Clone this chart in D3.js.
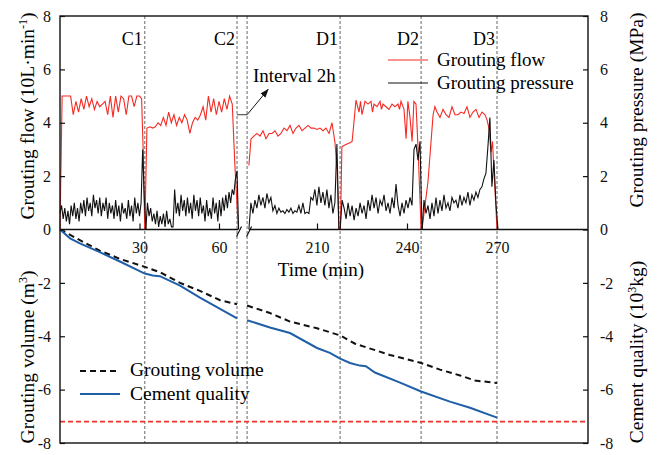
<!DOCTYPE html>
<html>
<head>
<meta charset="utf-8">
<script src="https://cdn.jsdelivr.net/npm/d3@7"></script>
<style>
  body { margin: 0; background: #fff; }
  svg { display: block; font-family: "Liberation Serif", "Times New Roman", serif; }
</style>
</head>
<body>
<div id="chart"></div>
<script>
// ---- data (time in min, flow in 10 L/min, pressure in MPa, volume m3, cement 10^3 kg)
const flowC1 = [[0,0],[0.8,5.0],[2,5.0],[3,5.0],[4,5.0],[5,4.3],[6,4.8],[7,4.4],[8,4.9],[9,4.5],[10,5.0],[11,4.6],[12,4.9],[13,4.5],[14,4.8],[15,4.6],[16,4.7],[17,4.8],[18,4.3],[19,5.0],[20,4.2],[21,5.0],[22,4.4],[23,5.0],[24,4.9],[25,4.3],[26,5.0],[27,5.0],[28,4.6],[29,5.0],[30,5.0],[30.8,4.9],[31.4,2.9],[32,0]];
const flowC2 = [[32,0],[32.8,3.8],[34,3.85],[35,3.8],[36,3.85],[37,4.0],[38,3.9],[39,4.2],[40,3.9],[41,4.4],[42,4.0],[43,4.3],[44,3.9],[45,4.2],[46,4.0],[47,4.3],[48,4.1],[49,3.6],[50,4.0],[51,4.2],[52,4.1],[53,4.3],[54,4.6],[55,4.1],[56,5.0],[57,4.4],[58,4.9],[59,4.3],[60,4.8],[61,4.4],[62,4.9],[63,4.5],[64,5.0],[65,4.7],[66,2.4],[67.3,0]];
const flowD1 = [[187.3,2.4],[188,3.4],[189,3.5],[190,3.6],[191,3.5],[192,3.7],[193,3.4],[194,3.6],[195,3.6],[196,3.7],[197,3.5],[198,3.6],[199,3.8],[200,3.7],[201,3.9],[202,3.6],[203,3.8],[204,3.9],[205,3.7],[206,3.8],[207,3.9],[208,3.8],[209,3.8],[210,3.75],[211,3.8],[212,3.7],[213,3.8],[214,3.6],[215,4.0],[216,3.25],[216.7,2.2],[217.3,0]];
const flowD2 = [[217.8,0],[218.3,3.1],[219,3.15],[220,3.2],[221,3.25],[221.7,3.3],[222.3,4.0],[223,4.85],[224,4.4],[224.5,4.8],[225,4.3],[226,4.8],[227,4.7],[228,4.8],[228.5,4.4],[229,4.7],[230,4.6],[231,4.8],[231.5,4.5],[232,4.7],[233,4.6],[234,4.5],[235,4.7],[236,4.6],[237,4.7],[237.5,4.5],[238,4.8],[239,4.5],[239.7,3.4],[240.3,4.8],[241,4.2],[241.7,3.3],[242.3,4.8],[243,4.7],[243.7,3.0],[244.7,0]];
const flowD3 = [[245,0],[247,1.8],[248.7,4.3],[249.3,4.6],[250,4.4],[251,4.2],[252,4.5],[253,4.3],[254,4.2],[255,4.6],[256,4.3],[257,4.3],[258,4.4],[259,4.35],[260,4.6],[261,4.2],[262,4.4],[263,4.5],[264,4.2],[265,4.4],[266,4.3],[266.7,4.1],[267.3,3.8],[268,2.9],[268.5,3.3],[270,0]];

// pressure: evenly sampled between the two times of each span
const presC1Span = [0, 32.4];
const presC1 = [0.6,0.9,0.4,0.8,0.3,0.7,0.2,0.9,0.5,1.0,0.4,0.8,0.3,1.0,0.6,1.1,0.5,1.2,0.7,1.0,0.5,1.3,0.8,1.1,0.6,1.2,0.5,1.0,0.7,1.2,0.4,1.0,0.6,0.9,0.4,1.1,0.5,0.9,0.3,1.0,0.6,0.8,0.4,1.1,0.5,0.9,0.3,1.2,0.6,1.0,0.5,1.0,3.0,1.2,0.0];
const presC2Span = [32.4, 67.4];
const presC2 = [0.0,1.0,0.5,0.8,0.3,0.6,0.2,0.7,0.1,0.5,0.2,0.6,0.1,0.7,0.2,0.4,0.1,0.1,1.5,0.6,1.0,0.5,1.3,0.7,1.1,0.5,1.2,0.6,1.0,0.4,1.3,0.7,1.1,0.5,1.2,0.6,0.9,0.3,1.1,0.5,0.8,0.4,1.2,0.6,1.0,0.3,1.1,0.5,1.2,0.7,1.3,0.8,1.4,1.0,1.5,1.3,1.9,2.2,0.0];
const presD1Span = [187.3, 217.3];
const presD1 = [0.0,1.0,0.6,1.1,0.8,1.3,0.9,1.2,0.8,1.35,1.0,1.2,0.7,0.9,0.6,0.8,0.65,0.7,0.6,0.75,0.65,0.8,0.6,0.7,0.65,0.9,0.6,1.0,0.6,0.65,0.6,1.2,1.1,1.5,0.9,1.6,1.0,1.4,0.9,1.5,0.8,1.3,0.6,1.0,3.2,0.0];
const presD2Span = [217.7, 245.0];
const presD2 = [0.0,1.1,0.8,0.4,1.0,0.5,0.9,0.35,0.8,0.5,1.0,0.6,0.9,0.4,1.1,0.7,1.3,0.8,1.2,0.6,1.1,0.9,1.3,0.7,1.0,0.6,1.2,0.8,1.7,0.9,0.5,1.0,0.6,1.1,0.8,1.2,0.9,3.0,3.2,2.6,3.3,0.0];
const presD3Span = [245, 270.3];
const presD3 = [0.0,1.1,0.6,0.9,0.4,1.0,0.5,1.2,0.6,1.1,0.7,1.3,0.8,1.0,0.7,1.2,1.0,1.1,0.8,1.3,0.9,1.2,1.0,1.4,0.9,1.3,1.1,1.4,1.2,1.5,1.6,1.9,2.1,3.1,4.2,1.6,2.6,1.0,0.0];

const volumeA = [[0,0],[7.5,-0.4],[15,-0.79],[22.6,-1.1],[32,-1.4],[37.7,-1.6],[45.3,-2.0],[52.8,-2.3],[60.4,-2.65],[66.8,-2.8]];
const volumeB = [[186.7,-2.85],[194.3,-3.13],[201,-3.45],[210,-3.7],[214.3,-3.85],[217.7,-3.97],[222.7,-4.28],[234.3,-4.7],[244.7,-5.0],[251,-5.25],[257.7,-5.47],[262.7,-5.66],[270,-5.75]];
const cementA = [[0,0],[3.8,-0.33],[7.5,-0.52],[15,-0.85],[22.6,-1.2],[32,-1.65],[35,-1.72],[37.7,-1.75],[45.3,-2.1],[52.8,-2.55],[60.4,-2.97],[66.8,-3.33]];
const cementB = [[186.7,-3.4],[194.3,-3.67],[201,-3.88],[210,-4.44],[214.3,-4.62],[217.7,-4.84],[221,-5.0],[224.3,-5.1],[226.3,-5.12],[229.3,-5.36],[237.7,-5.74],[244.7,-6.07],[254.3,-6.45],[261,-6.68],[270,-7.05]];
const limitLine = -7.2;

const stageNames = ['C1', 'C2', '', 'D1', 'D2', 'D3'];
const stageTimes = [32, 66.8, 186.7, 217.7, 244.7, 270];
const breakTimes = [66.8, 186.7];
const yTicks = [-8, -6, -4, -2, 0, 2, 4, 6, 8];
const xTicksA = [30, 60];
const xTicksB = [210, 240, 270];
const intervalLink = [[66.8, 4.3], [186.7, 4.3]];
const intervalArrow = [[186.7, 4.3], [193.7, 5.25]];

// ---- layout
const W = 658, H = 455;
const M = { left: 60, right: 588, top: 16, bottom: 443 };
const RED = '#f42a24', BLUE = '#1f5fa6';

const svg = d3.select('#chart').append('svg').attr('width', W).attr('height', H);

const y = d3.scaleLinear().domain([-8, 8]).range([M.bottom, M.top]);
const xA = d3.scaleLinear().domain([0, 60]).range([M.left, 219]);
const xB = d3.scaleLinear().domain([210, 270]).range([317, 497]);
const x = (t) => (t < 120 ? xA(t) : xB(t));
const y0 = y(0);

const line = d3.line().x((d) => x(d[0])).y((d) => y(d[1]));
const spread = (vals, span) => vals.map((v, i) => [span[0] + i * (span[1] - span[0]) / (vals.length - 1), v]);

// stage separators (dashed verticals)
svg.append('g').selectAll('line').data(stageTimes).enter().append('line')
    .attr('x1', (t) => x(t)).attr('x2', (t) => x(t))
    .attr('y1', M.top).attr('y2', M.bottom)
    .attr('stroke', '#555').attr('stroke-width', 0.9).attr('stroke-dasharray', '3,2');

svg.append('g').selectAll('text').data(stageTimes).enter().append('text')
    .attr('x', (t) => x(t) - 2).attr('y', 45)
    .attr('text-anchor', 'end').style('font-size', '18px')
    .text((t, i) => stageNames[i]);

// red limit line
svg.append('line')
    .attr('x1', M.left).attr('x2', M.right)
    .attr('y1', y(limitLine)).attr('y2', y(limitLine))
    .attr('stroke', '#e8352d').attr('stroke-width', 1.8).attr('stroke-dasharray', '5,3');

// top panel series
[flowC1, flowC2, flowD1, flowD2, flowD3].forEach((s) => {
    svg.append('path').attr('d', line(s)).attr('fill', 'none')
        .attr('stroke', RED).attr('stroke-width', 1.1);
});
[[presC1, presC1Span], [presC2, presC2Span], [presD1, presD1Span], [presD2, presD2Span], [presD3, presD3Span]].forEach(([v, span]) => {
    svg.append('path').attr('d', line(spread(v, span))).attr('fill', 'none')
        .attr('stroke', '#111').attr('stroke-width', 1.1).attr('stroke-linejoin', 'miter');
});

// bottom panel series
[volumeA, volumeB].forEach((s) => {
    svg.append('path').attr('d', line(s)).attr('fill', 'none')
        .attr('stroke', '#111').attr('stroke-width', 2).attr('stroke-dasharray', '6,4');
});
[cementA, cementB].forEach((s) => {
    svg.append('path').attr('d', line(s)).attr('fill', 'none')
        .attr('stroke', BLUE).attr('stroke-width', 2);
});

// interval annotation
svg.append('defs').append('marker')
    .attr('id', 'arr').attr('viewBox', '0 0 10 10').attr('refX', 9).attr('refY', 5)
    .attr('markerWidth', 9).attr('markerHeight', 9).attr('orient', 'auto')
    .append('path').attr('d', 'M0,1.5L10,5L0,8.5Z').attr('fill', '#111');
svg.append('path').attr('d', line(intervalLink)).attr('stroke', '#333').attr('stroke-width', 1).attr('fill', 'none');
svg.append('path').attr('d', line(intervalArrow)).attr('stroke', '#111').attr('stroke-width', 1)
    .attr('fill', 'none').attr('marker-end', 'url(#arr)');
svg.append('text').attr('x', 253).attr('y', 82).style('font-size', '19px').text('Interval 2h');

// frame
svg.append('rect').attr('x', M.left).attr('y', M.top)
    .attr('width', M.right - M.left).attr('height', M.bottom - M.top)
    .attr('fill', 'none').attr('stroke', '#111').attr('stroke-width', 1.4);

// middle time axis with break
svg.append('line').attr('x1', M.left).attr('x2', x(breakTimes[0]) + 1)
    .attr('y1', y0).attr('y2', y0).attr('stroke', '#111').attr('stroke-width', 1.4);
svg.append('line').attr('x1', x(breakTimes[1]) + 2).attr('x2', M.right)
    .attr('y1', y0).attr('y2', y0).attr('stroke', '#111').attr('stroke-width', 1.4);
svg.append('g').selectAll('line').data(breakTimes).enter().append('line')
    .attr('x1', (t) => x(t) - 0.5).attr('y1', y0 + 7)
    .attr('x2', (t) => x(t) + 4.5).attr('y2', y0 - 3)
    .attr('stroke', '#111').attr('stroke-width', 1.2);

function styleAxis(g) {
    g.attr('font-family', null);
    g.select('.domain').remove();
    g.selectAll('line').attr('stroke', '#111').attr('stroke-width', 1.2);
    g.selectAll('text').attr('fill', '#111').style('font-size', '16px')
        .style('font-family', '"Liberation Serif", "Times New Roman", serif');
}

svg.append('g').attr('transform', `translate(0,${y0})`)
    .call(d3.axisBottom(xA).tickValues(xTicksA).tickSizeInner(-6).tickSizeOuter(0).tickPadding(12))
    .call(styleAxis);
svg.append('g').attr('transform', `translate(0,${y0})`)
    .call(d3.axisBottom(xB).tickValues(xTicksB).tickSizeInner(-6).tickSizeOuter(0).tickPadding(12))
    .call(styleAxis);

svg.append('g').attr('transform', `translate(${M.left},0)`)
    .call(d3.axisLeft(y).tickValues(yTicks).tickSizeInner(-5).tickSizeOuter(0).tickPadding(9).tickFormat((d) => String(d)))
    .call(styleAxis);
svg.append('g').attr('transform', `translate(${M.right},0)`)
    .call(d3.axisRight(y).tickValues(yTicks).tickSizeInner(-5).tickSizeOuter(0).tickPadding(12).tickFormat((d) => String(d)))
    .call(styleAxis);

svg.append('text').attr('x', 321).attr('y', 276).attr('text-anchor', 'middle')
    .style('font-size', '19px').text('Time (min)');

// axis titles
function vTitle(cx, cy, parts) {
    const t = svg.append('text').attr('transform', `translate(${cx},${cy}) rotate(-90)`)
        .attr('text-anchor', 'middle').attr('dy', '0.35em').style('font-size', '19.5px');
    parts.forEach(([s, sup]) => {
        const ts = t.append('tspan').text(s);
        if (sup) ts.attr('baseline-shift', 'super').style('font-size', '12px');
    });
}
vTitle(27, 116, [['Grouting flow (10L·min'], ['-1', true], [')']]);
vTitle(27, 357, [['Grouting volume (m'], ['3', true], [')']]);
vTitle(636, 110, [['Grouting pressure (MPa)']]);
vTitle(636, 352, [['Cement quality (10'], ['3', true], ['kg)']]);

// legends
const legTop = svg.append('g');
legTop.append('line').attr('x1', 388).attr('x2', 428).attr('y1', 60).attr('y2', 60)
    .attr('stroke', RED).attr('stroke-width', 1.1);
legTop.append('text').attr('x', 437).attr('y', 66).style('font-size', '19px').text('Grouting flow');
legTop.append('line').attr('x1', 388).attr('x2', 428).attr('y1', 83).attr('y2', 83)
    .attr('stroke', '#111').attr('stroke-width', 1.1);
legTop.append('text').attr('x', 437).attr('y', 89).style('font-size', '19px').text('Grouting pressure');

const legBot = svg.append('g');
legBot.append('line').attr('x1', 80).attr('x2', 117).attr('y1', 371).attr('y2', 371)
    .attr('stroke', '#111').attr('stroke-width', 2).attr('stroke-dasharray', '6,4');
legBot.append('text').attr('x', 130).attr('y', 376).style('font-size', '19.5px').text('Grouting volume');
legBot.append('line').attr('x1', 80).attr('x2', 120).attr('y1', 394).attr('y2', 394)
    .attr('stroke', BLUE).attr('stroke-width', 2);
legBot.append('text').attr('x', 130).attr('y', 400).style('font-size', '19.5px').text('Cement quality');
</script>
</body>
</html>
